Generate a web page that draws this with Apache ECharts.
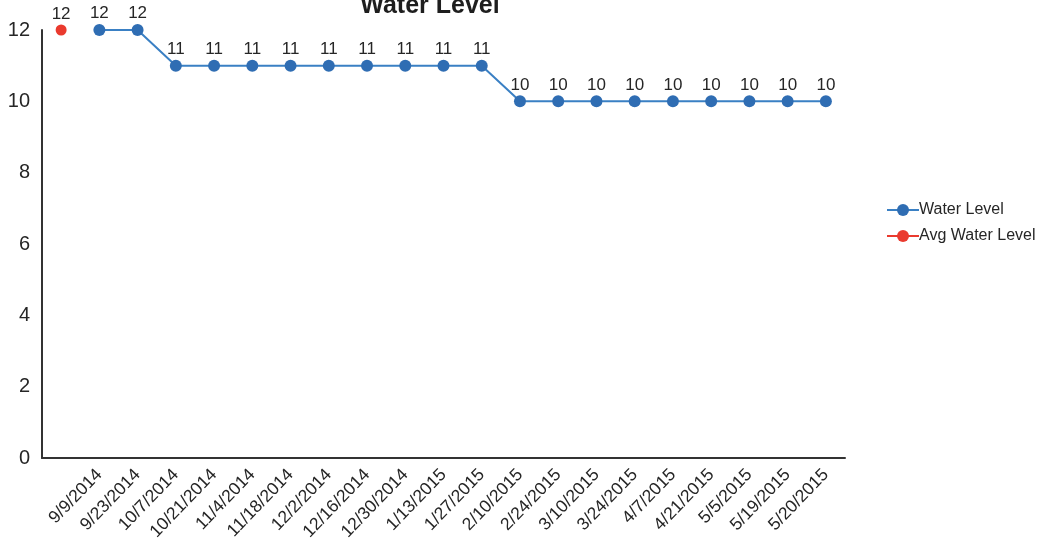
<!DOCTYPE html>
<html>
<head>
<meta charset="utf-8">
<script src="https://cdn.jsdelivr.net/npm/echarts@6/dist/echarts.min.js"></script>
<style>
  html, body { margin: 0; padding: 0; background: #ffffff; }
  #chart { width: 1043px; height: 553px; }
</style>
</head>
<body>
<div id="chart"></div>
<script>
// Sampling dates (the first slot holds only the average marker)
const dates = ['', '9/9/2014', '9/23/2014', '10/7/2014', '10/21/2014', '11/4/2014', '11/18/2014',
  '12/2/2014', '12/16/2014', '12/30/2014', '1/13/2015', '1/27/2015', '2/10/2015', '2/24/2015',
  '3/10/2015', '3/24/2015', '4/7/2015', '4/21/2015', '5/5/2015', '5/19/2015', '5/20/2015'];

const waterLevel = [null, 12, 12, 11, 11, 11, 11, 11, 11, 11, 11, 11, 10, 10, 10, 10, 10, 10, 10, 10, 10];
const avgWaterLevel = [12, null, null, null, null, null, null, null, null, null, null, null, null, null,
  null, null, null, null, null, null, null];

const yTicks = { min: 0, max: 12, interval: 2 };

const FONT = 'Liberation Sans, Arial, sans-serif';
const TEXT = '#262626';
const chart = echarts.init(document.getElementById('chart'), null, { renderer: 'canvas' });

const pointLabel = {
  show: true,
  position: 'top',
  distance: 2,
  fontFamily: FONT,
  fontSize: 17,
  color: TEXT
};

chart.setOption({
  backgroundColor: '#ffffff',
  animation: false,
  title: {
    text: 'Water Level',
    left: 425,
    top: -11,
    textAlign: 'center',
    textStyle: { fontFamily: FONT, fontSize: 25, fontWeight: 'bold', color: '#1e1e1e' }
  },
  legend: {
    orient: 'vertical',
    left: 881,
    top: 197,
    itemGap: 10,
    itemWidth: 32,
    itemHeight: 15,
    textStyle: { fontFamily: FONT, fontSize: 16, color: TEXT, padding: [0, 0, 0, -5] },
    data: ['Water Level', 'Avg Water Level']
  },
  grid: { left: 42, right: 198, top: 30, bottom: 95, containLabel: false },
  xAxis: {
    type: 'category',
    data: dates,
    boundaryGap: true,
    axisLine: { lineStyle: { color: '#333333', width: 2 } },
    axisTick: { show: false },
    axisLabel: {
      interval: 0,
      rotate: 46,
      margin: 14,
      fontFamily: FONT,
      fontSize: 17.5,
      color: TEXT
    }
  },
  yAxis: {
    type: 'value',
    min: yTicks.min,
    max: yTicks.max,
    interval: yTicks.interval,
    splitLine: { show: false },
    axisLine: { show: true, lineStyle: { color: '#333333', width: 2 } },
    axisTick: { show: false },
    axisLabel: { fontFamily: FONT, fontSize: 20, color: TEXT, margin: 12 }
  },
  series: [
    {
      name: 'Water Level',
      type: 'line',
      data: waterLevel,
      symbol: 'circle',
      symbolSize: 12,
      connectNulls: false,
      itemStyle: { color: '#2f6db3' },
      lineStyle: { color: '#3a80c4', width: 2 },
      label: pointLabel
    },
    {
      name: 'Avg Water Level',
      type: 'line',
      data: avgWaterLevel,
      symbol: 'circle',
      symbolSize: 11,
      itemStyle: { color: '#ea3a2e' },
      lineStyle: { color: '#ea3a2e', width: 2 },
      label: pointLabel
    }
  ]
});
</script>
</body>
</html>
